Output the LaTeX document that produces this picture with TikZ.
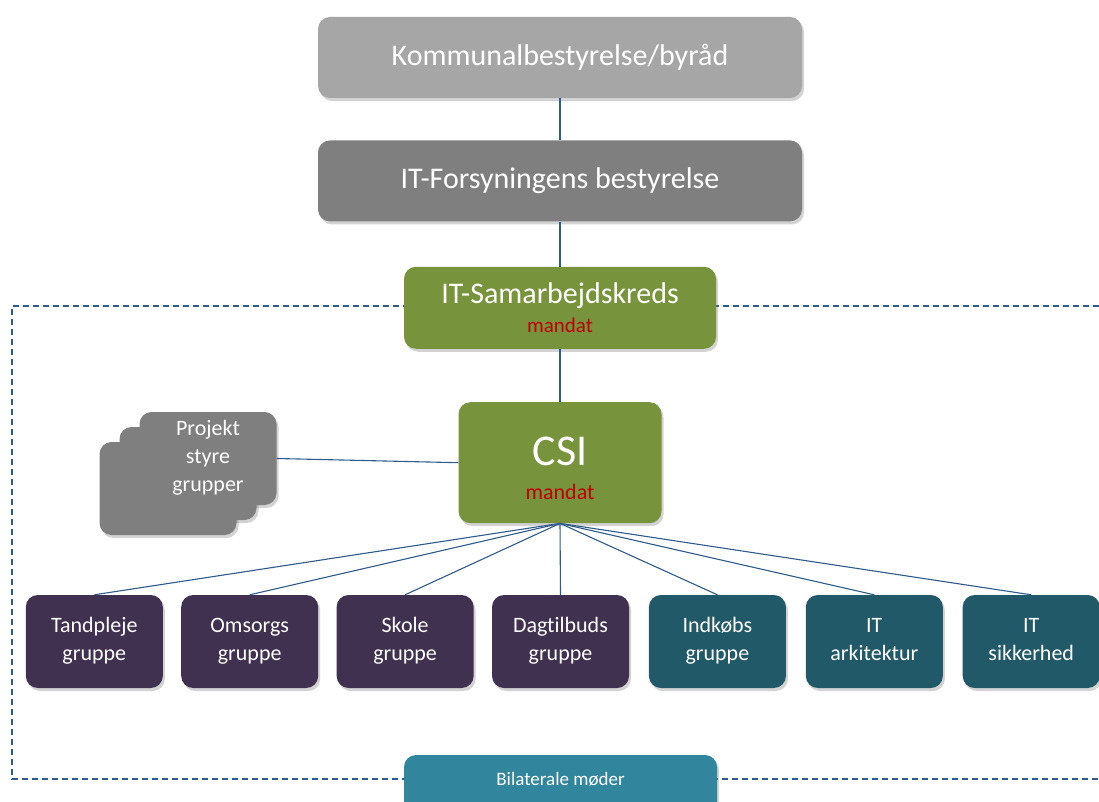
\documentclass[tikz,border=0pt]{standalone}
\usepackage{fontspec}
\setmainfont{Carlito}[Ligatures=CommonOff]
\usetikzlibrary{positioning,shadows}
\definecolor{boardlight}{HTML}{A6A6A6}
\definecolor{boarddark}{HTML}{7F7F7F}
\definecolor{kredsgreen}{HTML}{77933C}
\definecolor{mandatred}{HTML}{C00000}
\definecolor{grppurple}{HTML}{403151}
\definecolor{grpteal}{HTML}{215968}
\definecolor{bilateral}{HTML}{31859C}
\definecolor{linkblue}{HTML}{2F5A8C}

\begin{document}
\begin{tikzpicture}[x=1pt, y=-1pt, node distance=18pt]
\tikzstyle{box}=[rectangle, rounded corners=12pt, align=center, text=white, inner sep=0pt,
  drop shadow={shadow xshift=2pt, shadow yshift=-3pt, opacity=.35}]
\tikzstyle{topbox}=[box, minimum width=484pt, minimum height=81pt, font=\fontsize{30}{34}\selectfont]
\tikzstyle{grpbox}=[box, minimum width=137pt, minimum height=93pt, text depth=5pt, font=\fontsize{22}{28}\selectfont]
\tikzstyle{link}=[draw=linkblue, line width=1.1pt]
\useasboundingbox (0,0) rectangle (1099,802);
% ramme
\draw[linkblue, line width=1.3pt, dash pattern=on 6pt off 4pt] (1099,306) -- (12,306) -- (12,779) -- (1099,779);
\node[topbox, fill=boardlight] (kommune) at (560,57.5) {Kommunalbestyrelse/byråd};
\node[topbox, fill=boarddark, below=42pt of kommune] (itbestyrelse) {IT-Forsyningens bestyrelse};
\node[box, fill=kredsgreen, minimum width=312pt, minimum height=82pt, font=\fontsize{30}{29}\selectfont, below=45pt of itbestyrelse] (kreds) {IT-Samarbejdskreds\\{\color{mandatred}\fontsize{21}{29}\selectfont mandat}};
\node[box, fill=kredsgreen, minimum width=203pt, minimum height=121pt, font=\fontsize{44}{34}\selectfont, below=53pt of kreds] (csi) {\rule{0pt}{39pt}CSI\\{\color{mandatred}\fontsize{22}{34}\selectfont mandat}};
% projektstyregrupper
\node[grpbox, fill=boarddark] (projekt3) at (168,488.5) {};
\node[grpbox, fill=boarddark] (projekt2) at (188,473.5) {};
\node[grpbox, fill=boarddark] (projekt) at (208,458.5) {Projekt\\styre\\grupper};
% grupper
\node[grpbox, fill=grppurple] (dagtilbud) at (560.5,641.5) {Dagtilbuds\\gruppe};
\node[grpbox, fill=grppurple, left=of dagtilbud] (skole) {Skole\\gruppe};
\node[grpbox, fill=grppurple, left=of skole] (omsorg) {Omsorgs\\gruppe};
\node[grpbox, fill=grppurple, left=of omsorg] (tandpleje) {Tandpleje\\gruppe};
\node[grpbox, fill=grpteal, right=19.5pt of dagtilbud] (indkob) {Indkøbs\\gruppe};
\node[grpbox, fill=grpteal, right=19.5pt of indkob] (itark) {IT\\arkitektur};
\node[grpbox, fill=grpteal, right=19.5pt of itark] (itsik) {IT\\sikkerhed};
\node[box, fill=bilateral, minimum width=313pt, minimum height=70pt, font=\fontsize{19}{22}\selectfont, text depth=0pt] (bilat) at (560.5,790) {\raisebox{22pt}{Bilaterale møder}};
% forbindelser
\draw[link] (kommune) -- (itbestyrelse);
\draw[link] (itbestyrelse) -- (kreds);
\draw[link] (kreds) -- (csi);
\draw[link] (projekt.east) -- (csi.west);
\foreach \grp in {tandpleje, omsorg, skole, dagtilbud, indkob, itark, itsik}
  \draw[link] (csi.south) -- (\grp.north);
\end{tikzpicture}
\end{document}
